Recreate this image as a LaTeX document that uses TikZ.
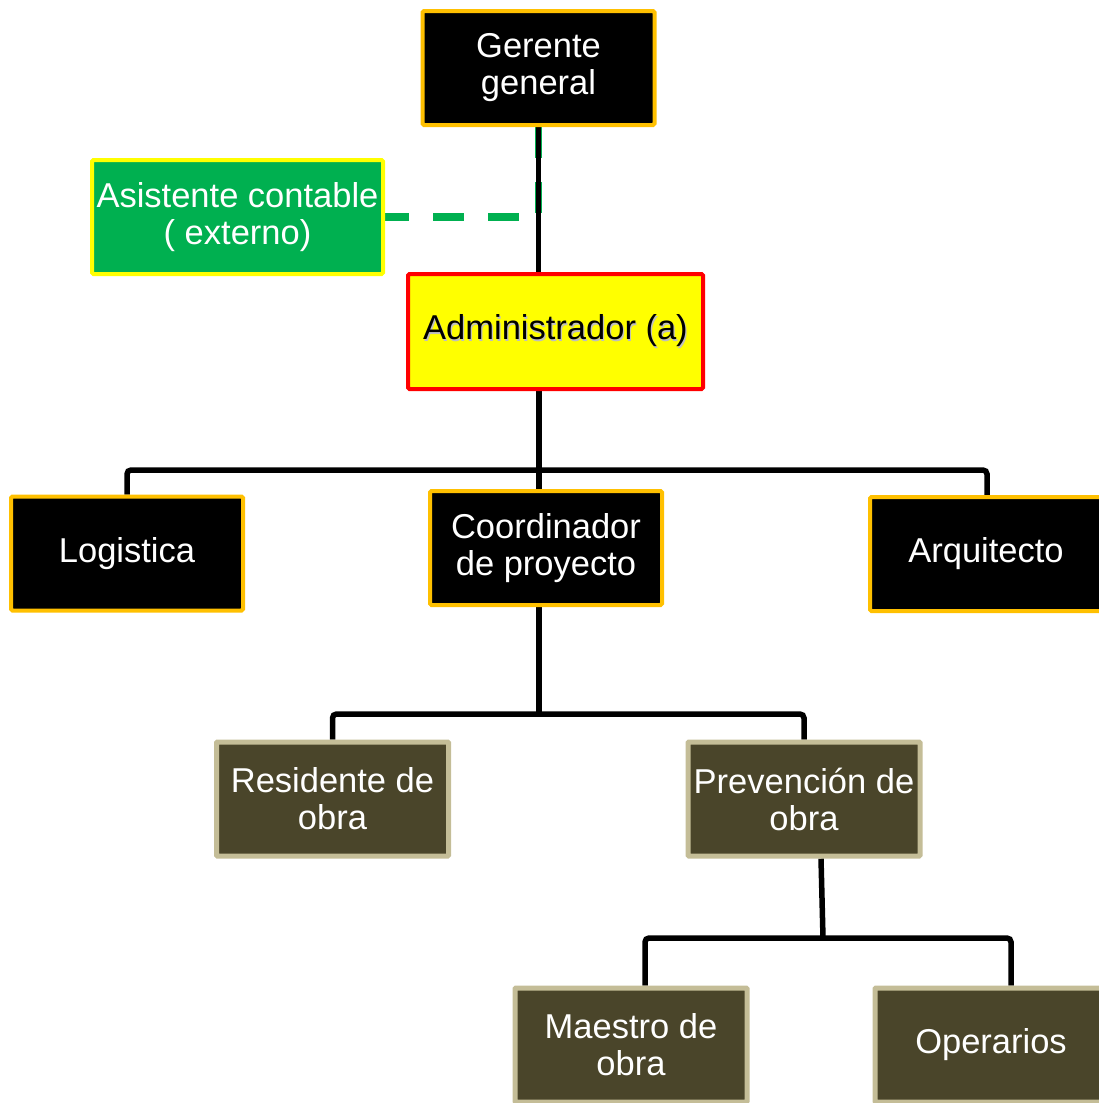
\documentclass[tikz,border=0pt]{standalone}
\usepackage{fontspec}
\setmainfont{Liberation Sans}
\usetikzlibrary{backgrounds}
\definecolor{orgborder}{HTML}{FFC000}
\definecolor{extgreen}{HTML}{00B050}
\definecolor{olivefill}{HTML}{4A452A}
\definecolor{oliveborder}{HTML}{C4BD97}
\definecolor{pureyellow}{HTML}{FFFF00}
\newcommand\softshadow[1]{\makebox[0pt][l]{\raisebox{-1.2pt}{\hspace{1.2pt}\textcolor{black!25}{#1}}}#1}
\tikzset{
  box/.style={draw, line width=4pt, rounded corners=1.5pt, align=center, inner sep=0pt,
    minimum width=232pt, minimum height=114pt,
    font=\fontsize{34.5}{37}\selectfont},
  headbox/.style={box, draw=orgborder, fill=black, text=white},
  extbox/.style={box, draw=pureyellow, fill=extgreen, text=white, minimum width=291pt},
  adminbox/.style={box, draw=red, fill=pureyellow, text=black, minimum width=295pt, minimum height=115pt},
  fieldbox/.style={box, draw=oliveborder, fill=olivefill, text=white, line width=5pt, rounded corners=1pt},
  conn/.style={draw=black, line width=5.5pt, rounded corners=4pt},
  extlink/.style={draw=extgreen, line width=7.5pt, dash pattern=on 31pt off 24pt}
}
\begin{document}
\begin{tikzpicture}[x=1pt,y=-1pt]
\useasboundingbox (0,0) rectangle (1099,1103);

% boxes
\node[headbox] (ger) at (538.5,68) {Gerente\\general};
\node[extbox] (asi) at (237.5,217) {Asistente contable\\( externo)};
\node[adminbox] (adm) at (555.5,331.5) {\softshadow{Administrador (a)}};
\node[headbox] (log) at (127,553.5) {Logistica};
\node[headbox] (coo) at (546,548) {Coordinador\\de proyecto};
\node[headbox] (arq) at (986,554) {Arquitecto};
\node[fieldbox] (res) at (332.5,799) {Residente de\\obra};
\node[fieldbox] (pre) at (804,799) {Prevención de\\obra};
\node[fieldbox] (mae) at (631,1045) {Maestro de\\obra};
\node[fieldbox] (ope) at (991,1045) {Operarios};

% junction points of the tree
\coordinate (j1) at (539,470);
\coordinate (j2) at (539,714);
\coordinate (j3) at (823,938);

\begin{scope}[on background layer]
  % external (dashed) link to the accountant
  \draw[extlink] (ger.south) -- (ger.south |- asi.east) -- (asi.east);
  % reporting lines
  \draw[conn] (ger.south) -- (ger.south |- adm.north);
  \draw[conn] (adm.south -| j1) -- (j1 |- coo.north);
  \draw[conn] (j1) -| (log.north);
  \draw[conn] (j1) -| ([xshift=1pt]arq.north);
  \draw[conn] (coo.south -| j2) -- (j2);
  \draw[conn] (j2) -| (res.north);
  \draw[conn] (j2) -| (pre.north);
  \draw[conn] ([xshift=17pt]pre.south) -- (j3);
  \draw[conn] (j3) -| ([xshift=14pt]mae.north);
  \draw[conn] (j3) -| ([xshift=20pt]ope.north);
\end{scope}
\end{tikzpicture}
\end{document}
